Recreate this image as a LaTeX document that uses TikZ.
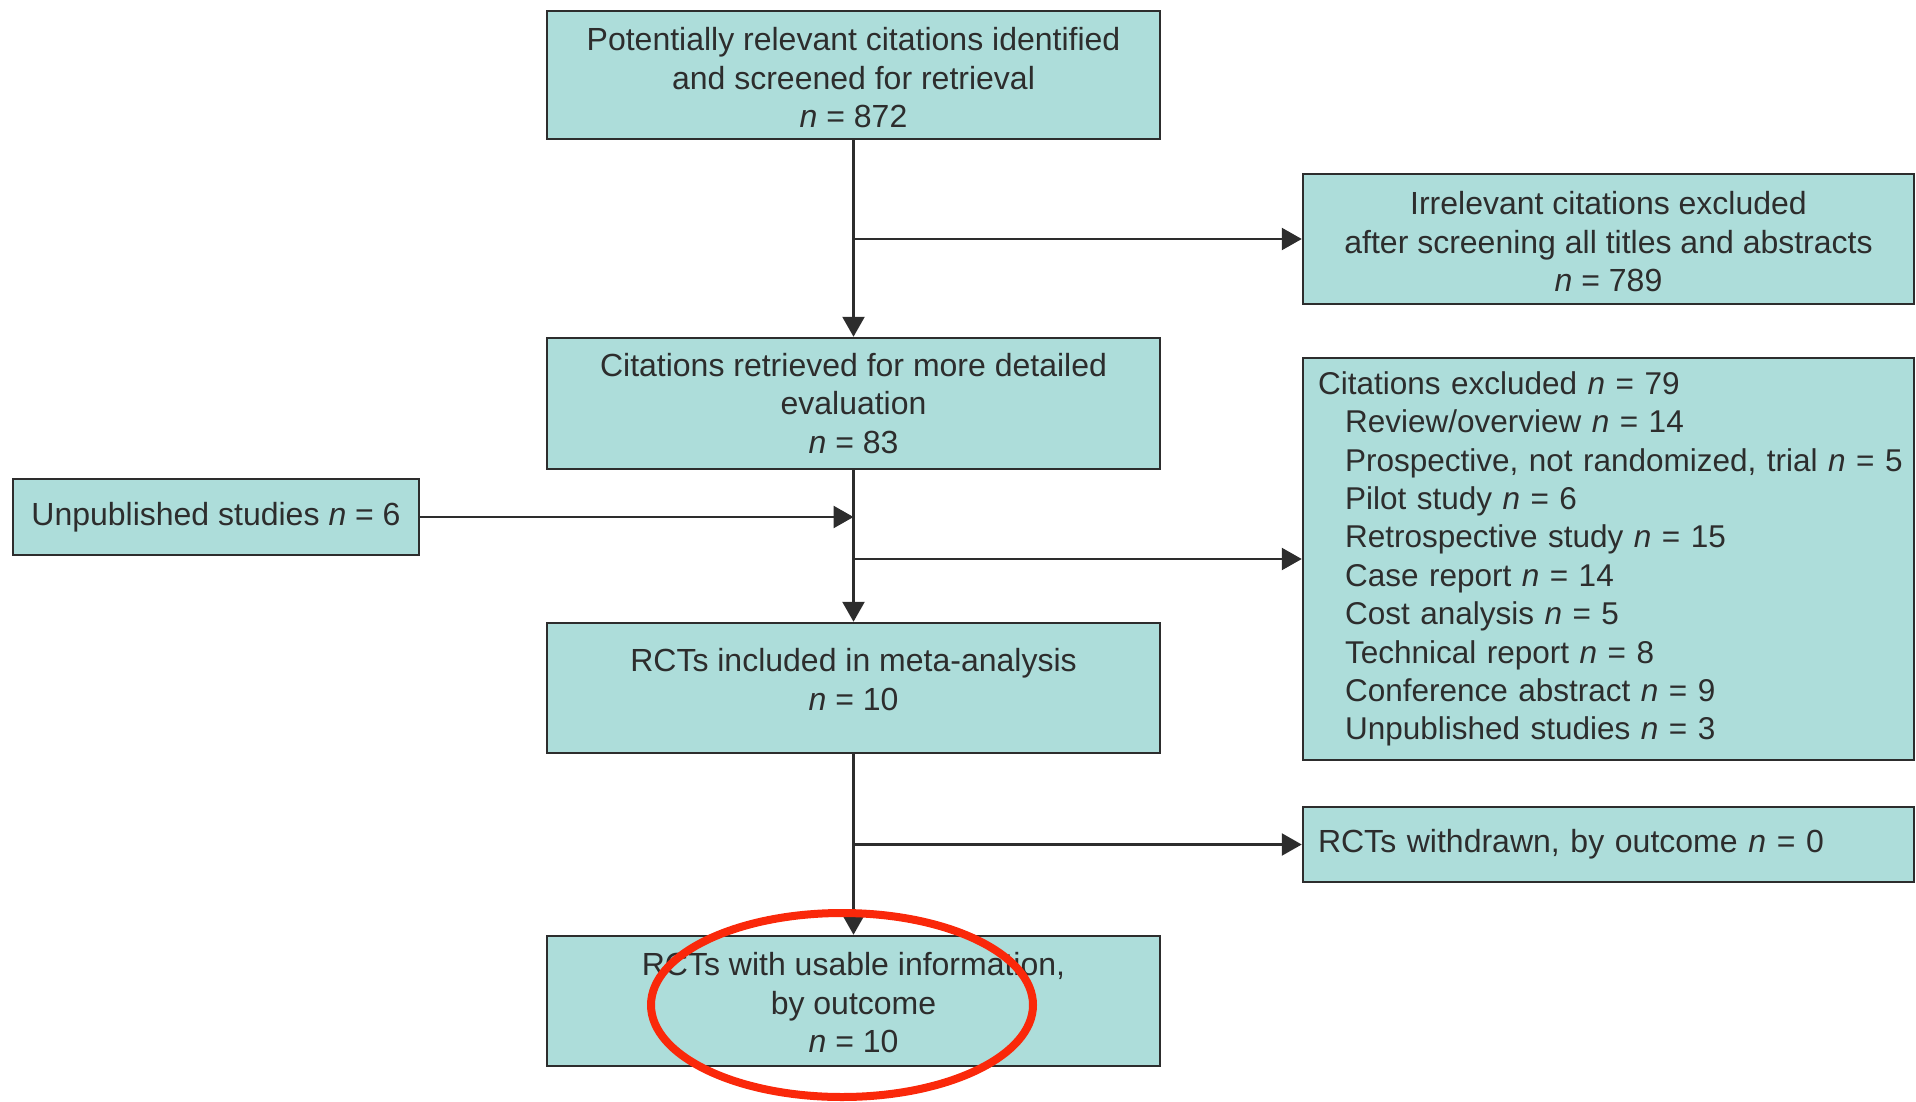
\documentclass[tikz,border=0pt]{standalone}
\usepackage{fontspec}
\setmainfont{Liberation Sans}
\usetikzlibrary{arrows.meta,shapes.geometric}
\definecolor{boxfill}{RGB}{173,221,218}
\definecolor{boxline}{RGB}{45,45,45}
\definecolor{ringred}{RGB}{250,40,10}
\begin{document}
\begin{tikzpicture}[x=1pt,y=1pt,
  every node/.style={font=\fontsize{32}{38.4}\selectfont, text=boxline},
  flowbox/.style={draw=boxline, line width=2.5pt, fill=boxfill, rectangle, align=center, inner sep=0pt},
  conn/.style={draw=boxline, line width=2.5pt},
  arr/.style={conn, -{Triangle[length=20pt,width=22pt]}}]
\useasboundingbox (0,0) rectangle (1916,-1102);
\node[flowbox, minimum width=613, minimum height=128] (top) at (853.5,-75)
  {\rule{0pt}{29pt}Potentially relevant citations identified\\and screened for retrieval\\\textit{n} = 872};
\node[flowbox, minimum width=613, minimum height=131] (retr) at (853.5,-403.5)
  {Citations retrieved for more detailed\\evaluation\\\textit{n} = 83};
\node[flowbox, minimum width=613, minimum height=130] (incl) at (853.5,-688)
  {RCTs included in meta-analysis\\\textit{n} = 10\rule[-17pt]{0pt}{1pt}};
\node[flowbox, minimum width=613, minimum height=130] (usable) at (853.5,-1001)
  {\rule{0pt}{27pt}RCTs with usable information,\\by outcome\\\textit{n} = 10};
\node[flowbox, minimum width=611, minimum height=130] (irr) at (1608.5,-239)
  {\rule{0pt}{29pt}Irrelevant citations excluded\\after screening all titles and abstracts\\\textit{n} = 789};
\node[flowbox, minimum width=611, minimum height=402, align=left, text width=581,
      font=\fontsize{31.5}{38.4}\selectfont] (excl) at (1608.5,-559)
  {Citations excluded \textit{n} = 79\\
   \hspace*{27pt}Review/overview \textit{n} = 14\\
   \hspace*{27pt}\mbox{Prospective, not randomized, trial \textit{n} = 5}\\
   \hspace*{27pt}Pilot study \textit{n} = 6\\
   \hspace*{27pt}Retrospective study \textit{n} = 15\\
   \hspace*{27pt}Case report \textit{n} = 14\\
   \hspace*{27pt}Cost analysis \textit{n} = 5\\
   \hspace*{27pt}Technical report \textit{n} = 8\\
   \hspace*{27pt}Conference abstract \textit{n} = 9\\
   \hspace*{27pt}Unpublished studies \textit{n} = 3};
\node[flowbox, minimum width=611, minimum height=75, align=left, text width=581] (wd) at (1608.5,-844.5)
  {RCTs withdrawn, by outcome \textit{n} = 0};
\node[flowbox, minimum width=406, minimum height=76] (unpub) at (216,-517)
  {Unpublished studies \textit{n} = 6};
% connectors
\draw[arr] (top.south) -- (retr.north);
\draw[arr] (top.south |- irr.west) -- (irr.west);
\draw[arr] (retr.south) -- (incl.north);
\draw[arr] (unpub.east) -- (unpub.east -| retr.south);
\draw[arr] (retr.south |- excl.west) -- (excl.west);
\draw[arr] (incl.south) -- (usable.north);
\draw[arr] (incl.south |- wd.west) -- (wd.west);
% annotation ring
\node[ellipse, draw=ringred, line width=8pt, minimum width=382, minimum height=184, inner sep=0pt] (ring) at (842,-1005) {};
\end{tikzpicture}
\end{document}
